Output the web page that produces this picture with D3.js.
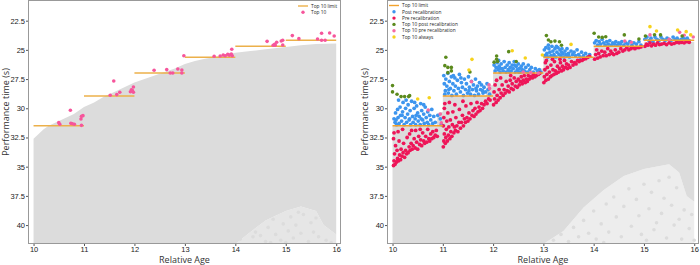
<!DOCTYPE html>
<html>
<head>
<meta charset="utf-8">
<script src="https://cdn.jsdelivr.net/npm/d3@7"></script>
<style>
  body { margin: 0; background: #fff; }
  svg { display: block; font-family: "Open Sans", sans-serif; }
  .tick text { font-size: 7.5px; fill: #222; }
  .tick line { stroke: #555; }
</style>
</head>
<body>
<svg id="chart" width="700" height="265"></svg>
<script>
// helper: "x y, x y, ..." -> [[x,y],...]
const pts = (s) => s.trim().split(",").map((p) => p.trim().split(/\s+/).map(Number));

const xTicks = [10, 11, 12, 13, 14, 15, 16];
const yTicks = [22.5, 25, 27.5, 30, 32.5, 35, 37.5, 40];
const bins = [10, 11, 12, 13, 14, 15];
const top10Limit = [31.5, 28.95, 26.98, 25.63, 24.69, 24.18];

// grey cloud outline, left panel
const cloudTopLeft = pts(`10.0 32.6, 10.1 32.2, 10.2 31.8, 10.3 31.5, 10.45 31.2, 10.6 30.9, 10.8 30.5,
  11.0 29.9, 11.2 29.5, 11.4 29.0, 11.6 28.6, 11.8 28.2, 12.0 27.8, 12.2 27.5, 12.4 27.2, 12.6 26.9,
  12.8 26.6, 13.0 26.2, 13.2 25.95, 13.4 25.75, 13.6 25.6, 13.8 25.4, 14.0 25.25, 14.3 25.1, 14.6 24.95,
  15.0 24.75, 15.3 24.6, 15.6 24.5, 16.0 24.45`);
const cloudBottomLeft = pts(`10.0 41.62, 14.0 41.62, 14.3 40.6, 14.6 39.6, 15.0 38.8, 15.3 38.4, 15.6 38.8, 15.75 40.0, 16.0 40.8`);
const sparseLeft = pts(`14.1 41.2, 14.2 40.3, 14.35 41.0, 14.45 39.8, 14.5 40.9, 14.6 41.4, 14.65 40.2, 14.75 39.5,
  14.8 40.8, 14.9 41.3, 14.95 39.9, 15.05 40.5, 15.1 39.3, 15.15 41.1, 15.2 40.0, 15.3 40.7, 15.35 39.1,
  15.45 41.4, 15.5 39.8, 15.55 40.6, 15.6 39.4, 15.65 41.0, 15.8 41.3, 15.9 41.5, 14.4 40.6, 15.0 41.5,
  15.25 38.9, 14.7 41.5`);

// grey cloud outline, right panel
const cloudTopRight = pts(`10.0 31.5, 10.88 31.5, 10.9 30.4, 11.0 30.3, 11.0 28.95, 11.86 28.95, 11.88 28.1,
  12.0 28.0, 12.0 26.98, 12.9 26.98, 12.95 26.6, 13.0 26.6, 13.0 25.63, 14.0 25.63, 14.0 24.72, 15.0 24.72,
  15.0 24.35, 16.0 24.3`);
const cloudBottomRight = pts(`10.0 41.62, 13.0 41.62, 13.4 40.5, 13.8 38.5, 14.2 37.0, 14.6 35.8, 15.0 35.2,
  15.5 34.8, 15.7 35.5, 15.85 37.5, 16.0 38.0`);
const sparseRight = pts(`13.2 41.3, 13.35 40.8, 13.5 41.4, 13.6 40.2, 13.7 41.0, 13.8 39.6, 13.9 40.7, 14.0 38.8,
  14.05 41.2, 14.15 39.9, 14.25 38.2, 14.3 40.6, 14.4 37.6, 14.45 39.3, 14.55 41.0, 14.6 38.4, 14.7 36.9,
  14.75 40.1, 14.85 37.8, 14.9 39.2, 15.0 36.5, 15.05 41.3, 15.1 38.6, 15.15 37.2, 15.2 40.4, 15.3 36.2,
  15.35 39.0, 15.4 37.7, 15.45 41.1, 15.5 35.9, 15.55 38.3, 15.6 40.0, 15.65 36.8, 15.7 39.5, 15.75 41.2,
  15.8 38.7, 15.9 40.3, 15.95 39.1, 16.0 41.3, 14.2 41.5, 14.95 40.8, 15.25 39.8`);

// left panel: top 10
const top10 = pts(`10.50 31.23, 10.52 31.37, 10.73 30.17, 10.74 31.29, 10.81 31.37, 10.94 30.92, 10.95 30.69,
  10.98 30.63, 10.95 31.46, 10.77 31.33,
  11.59 27.66, 11.52 28.89, 11.65 28.83, 11.71 28.63, 11.92 28.58, 11.96 28.49, 11.98 28.18, 11.98 28.63, 11.94 28.42,
  12.39 26.75, 12.64 26.69, 12.71 26.98, 12.76 26.98, 12.86 26.64, 12.94 26.72, 12.94 26.98, 12.98 25.50,
  13.58 25.55, 13.70 25.52, 13.76 25.44, 13.80 25.50, 13.85 25.38, 13.92 25.35, 13.94 25.50, 13.93 24.95, 13.88 25.45,
  14.63 24.27, 14.75 24.61, 14.79 24.61, 14.82 24.35, 14.91 24.24, 14.94 24.18, 14.94 24.58, 14.78 24.52,
  15.13 23.78, 15.26 24.04, 15.63 24.07, 15.71 23.58, 15.78 24.18, 15.71 24.18, 15.87 23.56, 15.96 23.81`);

// right panel
const postRecal = pts(`10.03 30.9, 10.05 31.2, 10.06 30.4, 10.08 31.4, 10.1 30.1, 10.11 30.8, 10.13 31.3, 10.15 29.9,
  10.16 30.6, 10.18 31.1, 10.2 30.3, 10.21 29.5, 10.23 31.4, 10.25 30.8, 10.26 30.0, 10.28 31.2, 10.3 30.5,
  10.31 29.7, 10.33 31.0, 10.35 30.2, 10.36 31.4, 10.38 29.4, 10.4 30.7, 10.41 31.2, 10.43 30.0, 10.45 30.9,
  10.46 31.4, 10.48 29.8, 10.5 30.4, 10.51 31.1, 10.53 30.7, 10.55 31.4, 10.56 29.6, 10.58 30.2, 10.6 31.0,
  10.62 30.5, 10.63 31.3, 10.65 29.9, 10.67 30.8, 10.69 31.2, 10.7 30.3, 10.72 31.4, 10.74 30.6, 10.76 31.0,
  10.78 30.1, 10.8 31.3, 10.82 30.7, 10.85 31.2, 10.9 30.6, 10.95 30.9, 10.97 31.4, 10.12 29.3, 10.27 29.3,
  10.44 29.5, 10.62 29.7, 10.07 31.0, 10.19 30.6, 10.34 30.9, 10.47 30.6, 10.57 30.9,
  11.02 27.2, 11.03 27.9, 11.05 28.5, 11.06 27.5, 11.08 28.1, 11.1 27.0, 11.11 28.7, 11.13 27.7, 11.15 28.3,
  11.17 27.3, 11.18 28.9, 11.2 27.9, 11.22 28.5, 11.24 27.4, 11.25 28.1, 11.27 28.8, 11.29 27.6, 11.31 28.3,
  11.33 27.1, 11.35 28.6, 11.37 27.8, 11.39 28.2, 11.41 28.9, 11.43 27.5, 11.45 28.4, 11.47 27.9, 11.49 28.7,
  11.51 27.3, 11.53 28.2, 11.55 28.8, 11.57 27.7, 11.59 28.4, 11.61 28.0, 11.63 28.9, 11.65 27.5, 11.67 28.5,
  11.69 28.1, 11.71 28.8, 11.73 27.8, 11.75 28.4, 11.77 28.0, 11.8 28.7, 11.82 28.2, 11.85 28.6, 11.88 27.9,
  11.9 28.4, 11.93 28.8, 11.04 28.8, 11.12 28.4, 11.21 27.2, 11.36 27.4, 11.52 28.5, 11.66 28.3, 11.79 28.5,
  12.02 26.3, 12.04 26.8, 12.06 26.5, 12.08 26.1, 12.1 26.7, 12.12 26.4, 12.14 26.9, 12.16 26.2, 12.18 26.6,
  12.2 26.8, 12.22 26.0, 12.24 26.5, 12.26 26.9, 12.28 26.3, 12.3 26.7, 12.32 26.1, 12.34 26.5, 12.36 26.8,
  12.38 26.3, 12.4 26.6, 12.42 26.0, 12.44 26.9, 12.46 26.4, 12.48 26.7, 12.5 26.2, 12.52 26.6, 12.54 26.9,
  12.56 26.4, 12.58 26.7, 12.6 26.2, 12.62 26.8, 12.65 26.5, 12.68 26.9, 12.7 26.3, 12.73 26.7, 12.76 26.5,
  12.8 26.9, 12.84 26.6, 12.88 26.8, 12.92 26.7, 12.95 26.9, 12.15 26.6, 12.33 26.9, 12.51 26.9, 12.11 25.9, 12.43 26.3,
  13.02 25.0, 13.03 25.5, 13.05 24.8, 13.07 25.3, 13.09 25.6, 13.11 24.9, 13.13 25.2, 13.15 25.5, 13.17 24.7,
  13.19 25.1, 13.21 25.4, 13.23 24.9, 13.25 25.6, 13.27 25.2, 13.29 24.8, 13.31 25.4, 13.33 25.0, 13.35 25.5,
  13.37 24.9, 13.39 25.3, 13.41 25.6, 13.43 25.1, 13.45 25.4, 13.47 24.9, 13.5 25.3, 13.52 25.6, 13.55 25.1,
  13.58 25.4, 13.61 25.2, 13.64 25.5, 13.67 25.0, 13.7 25.4, 13.73 25.6, 13.76 25.2, 13.8 25.5, 13.84 25.3,
  13.88 25.6, 13.92 25.4, 13.1 24.6, 13.26 24.7, 13.06 25.4, 13.2 25.6, 13.36 25.2, 13.48 25.5,
  14.02 24.4, 14.05 24.2, 14.08 24.6, 14.11 24.3, 14.14 24.5, 14.17 24.1, 14.2 24.4, 14.23 24.6, 14.26 24.3,
  14.29 24.5, 14.32 24.2, 14.35 24.6, 14.38 24.4, 14.41 24.5, 14.44 24.3, 14.47 24.6, 14.5 24.4, 14.53 24.5,
  14.56 24.3, 14.6 24.6, 14.64 24.4, 14.68 24.5, 14.72 24.3, 14.76 24.6, 14.8 24.4, 14.85 24.5, 14.9 24.3, 14.94 24.6,
  15.02 24.1, 15.06 23.9, 15.1 24.2, 15.14 24.0, 15.18 24.3, 15.22 23.9, 15.26 24.1, 15.3 24.2, 15.34 23.9,
  15.38 24.1, 15.42 24.2, 15.46 24.0, 15.5 24.1, 15.54 24.2, 15.58 23.9, 15.62 24.1, 15.66 24.0, 15.7 24.2,
  15.74 24.1, 15.78 24.0, 15.82 24.1, 15.86 24.0, 15.9 24.2`);

const preRecal = pts(`10.02 34.9, 10.03 34.5, 10.05 34.8, 10.04 33.9, 10.06 33.2, 10.02 32.6, 10.03 32.1, 10.08 34.6,
  10.1 34.3, 10.09 33.6, 10.12 34.5, 10.14 34.0, 10.16 34.4, 10.17 33.5, 10.13 32.8, 10.19 34.1, 10.21 33.8,
  10.24 34.2, 10.22 33.0, 10.26 33.6, 10.28 33.9, 10.29 32.5, 10.31 33.8, 10.33 33.3, 10.35 33.6, 10.34 32.2,
  10.37 33.0, 10.39 33.5, 10.41 33.2, 10.43 32.6, 10.45 33.4, 10.46 31.9, 10.48 32.9, 10.5 33.5, 10.52 32.4,
  10.54 33.1, 10.56 32.7, 10.58 33.2, 10.6 32.1, 10.62 32.8, 10.64 33.0, 10.66 32.4, 10.68 32.9, 10.7 31.8,
  10.72 32.6, 10.74 32.8, 10.76 32.2, 10.78 32.6, 10.8 32.0, 10.82 32.5, 10.85 32.3, 10.87 31.9, 10.89 32.4,
  10.11 32.0, 10.2 31.8, 10.38 31.9, 10.55 31.8,
  11.01 33.3, 11.02 32.8, 11.03 32.2, 11.01 31.5, 11.02 30.8, 11.03 30.0, 11.05 33.0, 11.06 32.5, 11.07 31.8,
  11.08 31.1, 11.09 32.8, 11.1 30.4, 11.11 32.3, 11.12 31.6, 11.14 32.6, 11.15 31.0, 11.16 32.0, 11.18 32.4,
  11.19 31.4, 11.2 30.3, 11.22 32.1, 11.23 31.6, 11.25 31.9, 11.26 30.8, 11.28 31.5, 11.3 32.0, 11.32 31.2,
  11.33 30.1, 11.35 31.7, 11.37 31.2, 11.39 30.6, 11.41 31.5, 11.43 30.9, 11.45 31.2, 11.46 29.8, 11.48 30.8,
  11.5 31.1, 11.52 30.4, 11.54 30.9, 11.56 29.6, 11.58 30.6, 11.6 30.2, 11.62 30.7, 11.64 30.0, 11.66 30.5,
  11.68 29.5, 11.7 30.3, 11.72 29.9, 11.74 30.2, 11.77 29.6, 11.79 30.0, 11.82 29.7, 11.85 29.4, 11.88 29.6,
  11.91 29.2, 11.94 29.3, 11.04 29.6, 11.13 29.5, 11.24 29.7, 11.4 29.4,
  12.01 29.7, 12.03 29.2, 12.02 28.6, 12.04 28.0, 12.06 29.5, 12.08 28.9, 12.1 29.3, 12.12 28.4, 12.14 29.1,
  12.16 28.7, 12.18 28.0, 12.2 28.9, 12.22 28.4, 12.24 28.7, 12.26 27.7, 12.28 28.5, 12.3 28.1, 12.32 28.6,
  12.34 27.6, 12.36 28.3, 12.38 27.9, 12.4 28.4, 12.42 27.4, 12.44 28.1, 12.46 27.7, 12.48 28.2, 12.5 27.5,
  12.52 28.0, 12.54 27.7, 12.56 27.3, 12.58 27.9, 12.6 27.6, 12.62 27.2, 12.64 27.8, 12.66 27.5, 12.68 27.7,
  12.7 27.2, 12.72 27.5, 12.75 27.3, 12.78 27.4, 12.8 27.1, 12.83 27.3, 12.86 27.2, 12.9 27.1, 12.93 27.0,
  12.07 27.6, 12.15 27.4, 12.35 27.2,
  13.01 27.8, 13.02 27.3, 13.03 26.7, 13.04 26.1, 13.05 27.6, 13.07 27.1, 13.08 26.5, 13.1 27.5, 13.12 26.9,
  13.14 27.3, 13.15 26.3, 13.17 27.2, 13.19 26.7, 13.21 27.1, 13.22 26.0, 13.24 26.8, 13.26 27.0, 13.28 26.4,
  13.3 26.9, 13.32 26.6, 13.34 26.1, 13.36 26.8, 13.38 26.4, 13.4 26.7, 13.42 25.9, 13.44 26.5, 13.46 26.2,
  13.48 26.6, 13.5 26.3, 13.53 26.5, 13.56 26.0, 13.59 26.3, 13.62 26.1, 13.65 26.2, 13.68 25.9, 13.71 26.0,
  13.74 25.9, 13.77 25.9, 13.8 25.8, 13.84 25.75, 13.88 25.65, 13.92 25.55, 13.06 25.9, 13.18 25.8, 13.33 25.8,
  14.02 25.8, 14.04 25.4, 14.06 25.0, 14.08 25.7, 14.1 25.3, 14.13 25.6, 14.16 25.1, 14.19 25.5, 14.22 25.2,
  14.25 25.5, 14.28 24.9, 14.31 25.4, 14.34 25.1, 14.37 25.3, 14.4 25.4, 14.43 25.0, 14.46 25.3, 14.5 25.2,
  14.54 24.9, 14.58 25.1, 14.62 25.0, 14.66 24.8, 14.7 25.0, 14.74 24.9, 14.78 24.8, 14.82 24.9, 14.86 24.8,
  14.9 24.8, 14.94 24.75,
  15.02 24.7, 15.05 24.5, 15.08 24.6, 15.12 24.4, 15.15 24.65, 15.19 24.5, 15.23 24.6, 15.27 24.4, 15.31 24.55,
  15.35 24.5, 15.4 24.45, 15.45 24.55, 15.5 24.4, 15.55 24.5, 15.6 24.45, 15.65 24.35, 15.7 24.4, 15.75 24.35,
  15.8 24.4, 15.85 24.3, 15.9 24.35`);

const top10Post = pts(`10.00 28.06, 10.00 28.60, 10.09 28.80, 10.17 29.00, 10.24 29.00, 10.32 29.00, 10.34 28.92,
  11.06 25.63, 11.04 26.35, 11.10 26.50, 11.17 26.50, 11.10 26.95, 11.17 26.80, 11.54 26.90,
  12.07 25.52, 12.07 25.80, 12.09 26.00, 12.02 26.05, 12.31 25.15, 12.46 26.00,
  13.06 23.78, 13.10 24.15, 13.15 24.30, 13.23 24.25, 13.32 24.30, 13.36 24.60,
  14.01 23.58, 14.10 23.90, 14.17 23.93, 14.24 23.87, 14.61 23.72, 14.90 24.07,
  15.03 23.81, 15.21 23.70, 15.33 23.72, 15.76 23.81`);

const top10PreOnly = pts(`10.71 30.15, 10.95 30.50, 10.97 31.25, 11.57 27.72, 11.92 28.00, 11.93 28.30, 12.60 26.90,
  12.75 26.95, 12.90 27.00, 14.62 24.24, 14.75 24.35, 15.12 23.72, 15.50 24.10, 15.71 23.50, 15.80 23.75, 15.98 23.90`);

const top10Always = pts(`10.50 29.20, 10.73 29.10, 11.52 26.72, 11.58 25.81, 12.38 25.07, 12.64 25.70, 13.55 24.53,
  12.98 25.44, 15.12 23.01, 15.25 23.38, 15.67 23.30, 15.84 23.44, 15.93 23.72`);

const grey = "#dcdcdc";
const svg = d3.select("#chart");
const plotH = 244;

function panel(id, ox, w, draw) {
  const g = svg.append("g").attr("transform", `translate(${ox},0)`);
  const x = d3.scaleLinear().domain([9.89, 16.095]).range([0, w]);
  const y = d3.scaleLinear().domain([20.73, 41.62]).range([0, plotH]);

  g.append("clipPath").attr("id", id).append("rect").attr("width", w).attr("height", plotH);
  const plot = g.append("g").attr("clip-path", `url(#${id})`);

  const line = d3.line().x((d) => x(d[0])).y((d) => y(d[1]));
  draw(plot, x, y, line);

  // frame
  g.append("rect")
    .attr("x", 0.5).attr("y", 0.5)
    .attr("width", w - 1).attr("height", plotH - 1)
    .attr("fill", "none").attr("stroke", "#999");

  const yAxisG = g.append("g")
    .call(d3.axisLeft(y).tickValues(yTicks).tickSize(2).tickPadding(1).tickFormat((d) => d));
  yAxisG.select(".domain").remove();

  const xAxisG = g.append("g").attr("transform", `translate(0,${plotH})`)
    .call(d3.axisBottom(x).tickValues(xTicks).tickSize(2).tickPadding(1).tickFormat((d) => d));
  xAxisG.select(".domain").remove();

  g.append("text")
    .attr("x", w / 2).attr("y", 263)
    .attr("text-anchor", "middle")
    .attr("font-size", 9).attr("fill", "#333")
    .text("Relative Age");

  g.append("text")
    .attr("transform", `translate(-19.5,112) rotate(-90)`)
    .attr("text-anchor", "middle")
    .attr("font-size", 9).attr("fill", "#333")
    .text("Performance time (s)");

  return { g, x, y };
}

function dots(plot, x, y, data, color, r) {
  plot.append("g").selectAll("circle")
    .data(data).enter().append("circle")
    .attr("cx", (d) => x(d[0]))
    .attr("cy", (d) => y(d[1]))
    .attr("r", r)
    .attr("fill", color);
}

function steps(plot, x, y, color) {
  plot.append("g").selectAll("line")
    .data(bins).enter().append("line")
    .attr("x1", (d) => x(d))
    .attr("x2", (d) => x(d + 1))
    .attr("y1", (d, i) => y(top10Limit[i]))
    .attr("y2", (d, i) => y(top10Limit[i]))
    .attr("stroke", color)
    .attr("stroke-width", 1.6);
}

function cloud(plot, x, y, line, top, bottom, sparse, sparseFill) {
  const base = [[bottom[bottom.length - 1][0], 41.62]];
  plot.append("path")
    .attr("d", line(bottom.concat(base)) + "Z")
    .attr("fill", sparseFill);
  plot.append("path")
    .attr("d", line(top.concat(bottom.slice().reverse())) + "Z")
    .attr("fill", grey);
  dots(plot, x, y, sparse, grey, 1.8);
}

// left panel
panel("clipL", 28, 313, (plot, x, y, line) => {
  cloud(plot, x, y, line, cloudTopLeft, cloudBottomLeft, sparseLeft, "#e6e6e6");
  steps(plot, x, y, "#ecb04a");
  dots(plot, x, y, top10, "#f6559b", 1.8);
});

// right panel
panel("clipR", 387, 312, (plot, x, y, line) => {
  cloud(plot, x, y, line, cloudTopRight, cloudBottomRight, sparseRight, "#ededed");
  dots(plot, x, y, postRecal, "#3d95ee", 1.9);
  dots(plot, x, y, preRecal, "#ee1558", 1.9);
  steps(plot, x, y, "#f2a22c");
  dots(plot, x, y, top10PreOnly, "#f66aa2", 1.8);
  dots(plot, x, y, top10Post, "#5b8a1d", 1.8);
  dots(plot, x, y, top10Always, "#f6d21c", 1.8);
});

// legends
function legend(ox, oy, items) {
  const lg = svg.append("g").attr("transform", `translate(${ox},${oy})`)
    .attr("font-size", 4.8).attr("fill", "#222");
  items.forEach((it, i) => {
    const row = lg.append("g").attr("transform", `translate(0,${i * 6.3})`);
    if (it.line) {
      row.append("line").attr("x1", 0).attr("x2", 10).attr("stroke", it.color).attr("stroke-width", 1.4);
    } else {
      row.append("circle").attr("cx", 5).attr("r", 1.7).attr("fill", it.color);
    }
    row.append("text").attr("x", 13).attr("y", 1.7).text(it.label);
  });
}

legend(298, 6, [
  { label: "Top 10 limit", color: "#ecb04a", line: true },
  { label: "Top 10", color: "#f6559b" }
]);

legend(389, 5.5, [
  { label: "Top 10 limit", color: "#f2a22c", line: true },
  { label: "Post recalibration", color: "#3d95ee" },
  { label: "Pre recalibration", color: "#ee1558" },
  { label: "Top 10 post recalibration", color: "#5b8a1d" },
  { label: "Top 10 pre recalibration", color: "#f66aa2" },
  { label: "Top 10 always", color: "#f6d21c" }
]);
</script>
</body>
</html>
